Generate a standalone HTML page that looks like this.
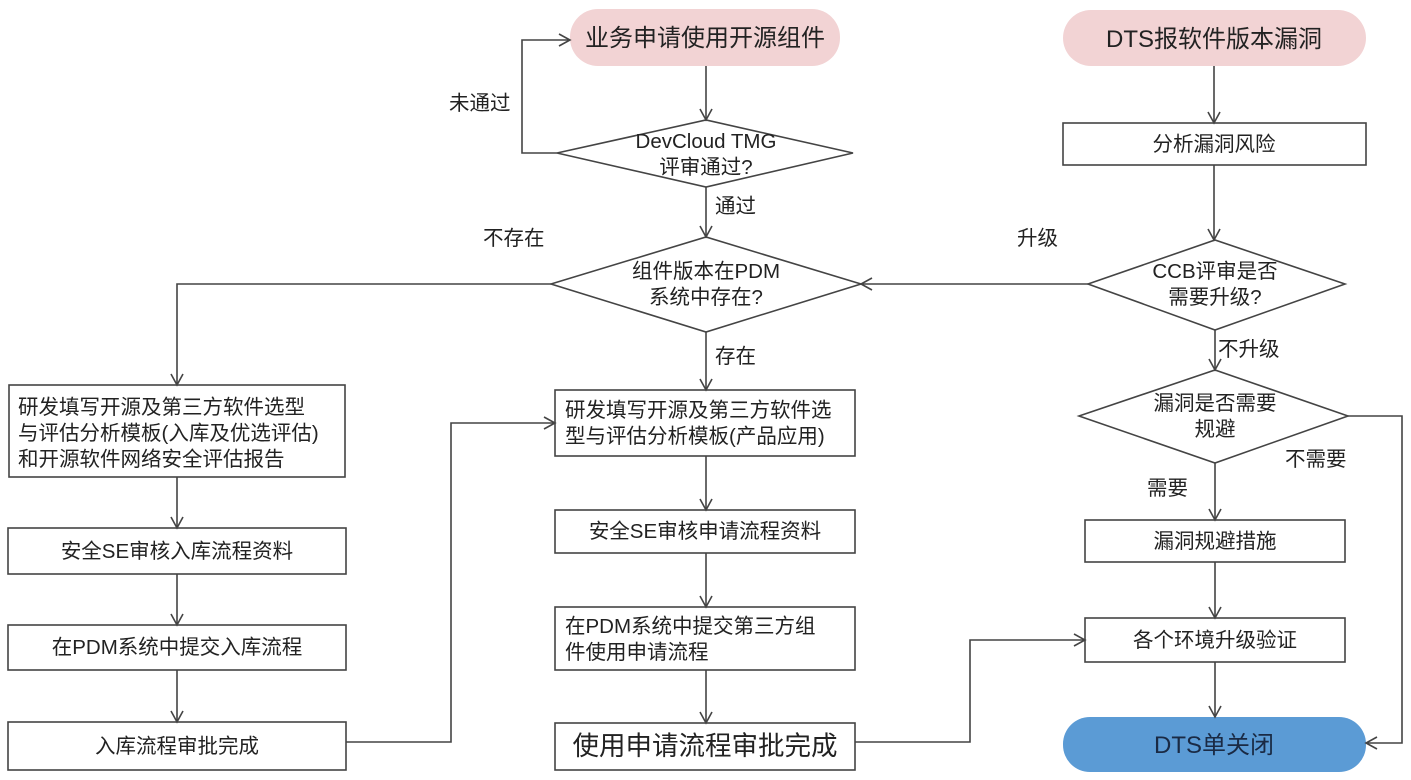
<!DOCTYPE html>
<html><head><meta charset="utf-8"><style>
html,body{margin:0;padding:0;background:#fff}
svg{display:block}
text{font-family:"Liberation Sans","Noto Sans CJK SC",sans-serif;fill:#222;font-size:20.5px}
.b{fill:#fff;stroke:#444;stroke-width:1.6}
.l{fill:none;stroke:#444;stroke-width:1.6}
</style></head><body>
<svg width="1411" height="780" viewBox="0 0 1411 780">
<defs><marker id="a" markerWidth="14" markerHeight="14" refX="12" refY="7" orient="auto" markerUnits="userSpaceOnUse"><path d="M1,1 L12,7 L1,13" fill="none" stroke="#444" stroke-width="1.6"/></marker></defs>
<rect x="570" y="9" width="270" height="57" rx="28" fill="#f2d3d4"/>
<text x="705" y="46" text-anchor="middle" style="font-size:24px">业务申请使用开源组件</text>
<rect x="1063" y="10" width="303" height="56" rx="28" fill="#f2d3d4"/>
<text x="1214" y="47" text-anchor="middle" style="font-size:24px">DTS报软件版本漏洞</text>
<rect x="1063" y="717" width="303" height="55" rx="27" fill="#5b9bd5"/>
<text x="1214" y="753" text-anchor="middle" style="font-size:24px;fill:#1a2a44">DTS单关闭</text>
<polygon class="b" points="557,153 706,120 853,153 706,187"/>
<text x="706" y="148" text-anchor="middle">DevCloud TMG</text>
<text x="706" y="174" text-anchor="middle">评审通过?</text>
<polygon class="b" points="551,284 706,237 861,284 706,332"/>
<text x="706" y="278" text-anchor="middle">组件版本在PDM</text>
<text x="706" y="304" text-anchor="middle">系统中存在?</text>
<polygon class="b" points="1088,284 1215,240 1345,284 1215,330"/>
<text x="1215" y="278" text-anchor="middle">CCB评审是否</text>
<text x="1215" y="304" text-anchor="middle">需要升级?</text>
<polygon class="b" points="1079,416 1215,370 1348,416 1215,463"/>
<text x="1215" y="410" text-anchor="middle">漏洞是否需要</text>
<text x="1215" y="436" text-anchor="middle">规避</text>
<rect class="b" x="1063" y="123" width="303" height="42"/>
<text x="1214" y="151" text-anchor="middle">分析漏洞风险</text>
<rect class="b" x="1085" y="520" width="260" height="42"/>
<text x="1215" y="548" text-anchor="middle">漏洞规避措施</text>
<rect class="b" x="1085" y="618" width="260" height="44"/>
<text x="1215" y="647" text-anchor="middle">各个环境升级验证</text>
<rect class="b" x="9" y="385" width="336" height="92"/>
<text x="18" y="414">研发填写开源及第三方软件选型</text>
<text x="18" y="440">与评估分析模板(入库及优选评估)</text>
<text x="18" y="466">和开源软件网络安全评估报告</text>
<rect class="b" x="8" y="528" width="338" height="46"/>
<text x="177" y="558" text-anchor="middle">安全SE审核入库流程资料</text>
<rect class="b" x="8" y="625" width="338" height="45"/>
<text x="177" y="654" text-anchor="middle">在PDM系统中提交入库流程</text>
<rect class="b" x="8" y="722" width="338" height="48"/>
<text x="177" y="753" text-anchor="middle">入库流程审批完成</text>
<rect class="b" x="555" y="390" width="300" height="66"/>
<text x="565" y="417">研发填写开源及第三方软件选</text>
<text x="565" y="443">型与评估分析模板(产品应用)</text>
<rect class="b" x="555" y="510" width="300" height="43"/>
<text x="705" y="538" text-anchor="middle">安全SE审核申请流程资料</text>
<rect class="b" x="555" y="607" width="300" height="63"/>
<text x="565" y="633">在PDM系统中提交第三方组</text>
<text x="565" y="659">件使用申请流程</text>
<rect class="b" x="555" y="723" width="300" height="47"/>
<text x="705" y="755" text-anchor="middle" style="font-size:26.5px">使用申请流程审批完成</text>
<line class="l" x1="706" y1="66" x2="706" y2="120" marker-end="url(#a)"/>
<polyline class="l" points="557,153 522,153 522,40 570,40" marker-end="url(#a)"/>
<line class="l" x1="706" y1="187" x2="706" y2="237" marker-end="url(#a)"/>
<polyline class="l" points="551,284 177,284 177,385" marker-end="url(#a)"/>
<line class="l" x1="706" y1="332" x2="706" y2="390" marker-end="url(#a)"/>
<line class="l" x1="1214" y1="66" x2="1214" y2="123" marker-end="url(#a)"/>
<line class="l" x1="1214" y1="165" x2="1214" y2="240" marker-end="url(#a)"/>
<line class="l" x1="1088" y1="284" x2="861" y2="284" marker-end="url(#a)"/>
<line class="l" x1="1215" y1="330" x2="1215" y2="370" marker-end="url(#a)"/>
<line class="l" x1="1215" y1="463" x2="1215" y2="520" marker-end="url(#a)"/>
<line class="l" x1="1215" y1="562" x2="1215" y2="618" marker-end="url(#a)"/>
<line class="l" x1="1215" y1="662" x2="1215" y2="717" marker-end="url(#a)"/>
<polyline class="l" points="1348,416 1402,416 1402,743 1366,743" marker-end="url(#a)"/>
<line class="l" x1="177" y1="477" x2="177" y2="528" marker-end="url(#a)"/>
<line class="l" x1="177" y1="574" x2="177" y2="625" marker-end="url(#a)"/>
<line class="l" x1="177" y1="670" x2="177" y2="722" marker-end="url(#a)"/>
<polyline class="l" points="346,742 451,742 451,423 555,423" marker-end="url(#a)"/>
<line class="l" x1="706" y1="456" x2="706" y2="510" marker-end="url(#a)"/>
<line class="l" x1="706" y1="553" x2="706" y2="607" marker-end="url(#a)"/>
<line class="l" x1="706" y1="670" x2="706" y2="723" marker-end="url(#a)"/>
<polyline class="l" points="855,742 970,742 970,640 1085,640" marker-end="url(#a)"/>
<text x="449" y="110">未通过</text>
<text x="715" y="213">通过</text>
<text x="483" y="245">不存在</text>
<text x="715" y="363">存在</text>
<text x="1017" y="245">升级</text>
<text x="1218" y="356">不升级</text>
<text x="1147" y="495">需要</text>
<text x="1285" y="466">不需要</text>
</svg>
</body></html>
